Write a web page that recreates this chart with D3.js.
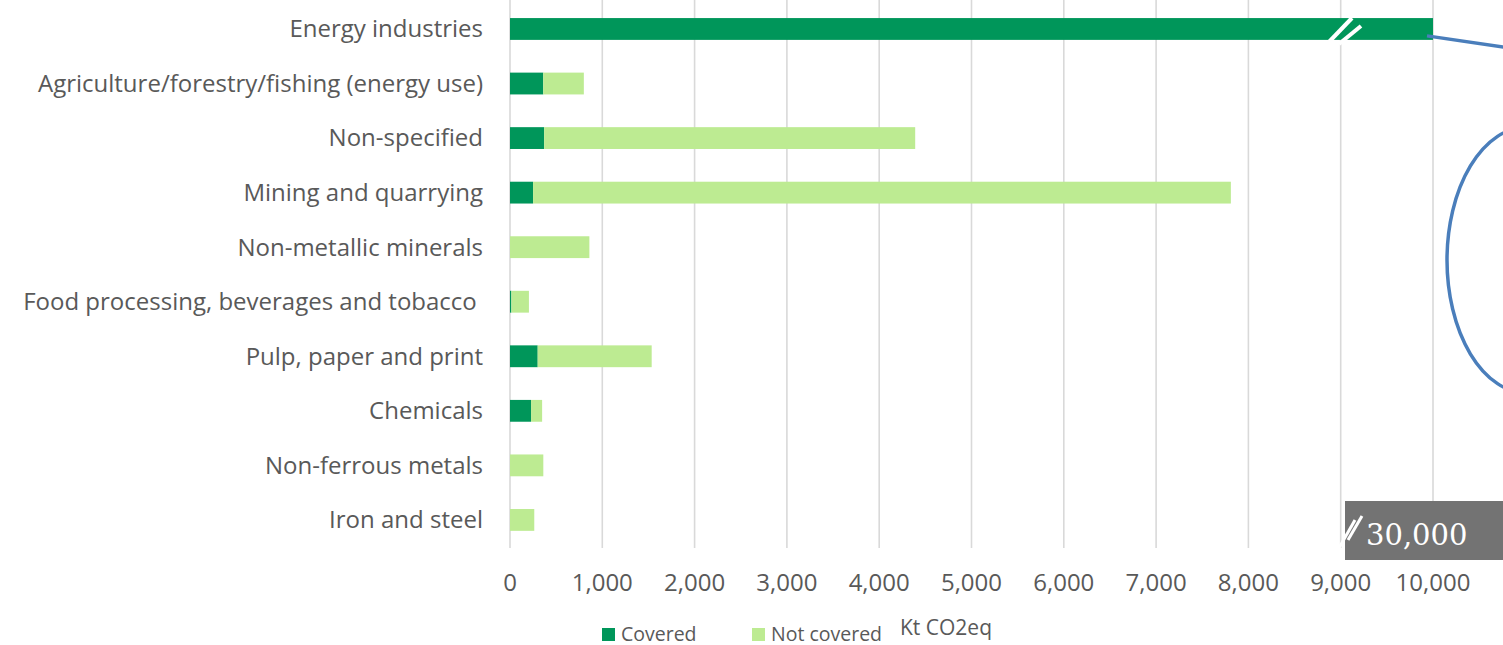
<!DOCTYPE html>
<html>
<head>
<meta charset="utf-8">
<script src="https://cdn.jsdelivr.net/npm/d3@7"></script>
<style>
  html, body { margin: 0; padding: 0; background: #fff; }
  svg { display: block; font-family: "Open Sans", sans-serif; }
  text { white-space: pre; }
</style>
</head>
<body>
<svg id="chart" width="1503" height="645"></svg>
<script>
// Emissions by sector, split into covered / not covered (kt CO2eq)
const categories = [
  "Energy industries",
  "Agriculture/forestry/fishing (energy use)",
  "Non-specified",
  "Mining and quarrying",
  "Non-metallic minerals",
  "Food processing, beverages and tobacco ",
  "Pulp, paper and print",
  "Chemicals",
  "Non-ferrous metals",
  "Iron and steel"
];
const covered    = [30000, 360, 370, 250,   0,  15,  300, 228,   0,   0];
const notCovered = [    0, 440, 4020, 7560, 860, 190, 1235, 120, 361, 263];
const seriesNames = ["Covered", "Not covered"];
const seriesColors = ["#00965a", "#bdeb92"];
const xTicks = [0, 1000, 2000, 3000, 4000, 5000, 6000, 7000, 8000, 9000, 10000];
const axisTitle = "Kt CO2eq";
const breakLabel = "30,000";

const svg = d3.select("#chart");
const W = 1503, H = 645;

// the axis is cut at 10,000; larger values run to the edge of the plot
const x = d3.scaleLinear().domain([0, 10000]).range([510, 1433]).clamp(true);
const y = d3.scaleBand().domain(categories).range([1.7, 547.2])
  .paddingInner(0.6).paddingOuter(0.3);

// gridlines
svg.append("g").selectAll("line").data(xTicks).join("line")
  .attr("x1", d => x(d)).attr("x2", d => x(d))
  .attr("y1", 0).attr("y2", 548)
  .attr("stroke", "#d9d9d9").attr("stroke-width", 1.6);

// stacked bars
const rows = categories.map((c, i) => ({ c, v: [covered[i], notCovered[i]] }));
const gBars = svg.append("g");
rows.forEach(r => {
  let acc = 0;
  r.v.forEach((v, s) => {
    const x0 = x(acc), x1 = x(acc + v);
    acc += v;
    if (x1 - x0 <= 0) return;
    gBars.append("rect")
      .attr("x", x0).attr("y", y(r.c))
      .attr("width", x1 - x0).attr("height", y.bandwidth())
      .attr("fill", seriesColors[s]);
  });
});

// category labels
svg.append("g").selectAll("text").data(categories).join("text")
  .attr("x", 483).attr("y", d => y(d) + y.bandwidth() / 2)
  .attr("dy", "0.35em").attr("text-anchor", "end")
  .attr("font-size", 24).attr("fill", "#595959")
  .text(d => d);

// x tick labels
svg.append("g").selectAll("text").data(xTicks).join("text")
  .attr("x", d => x(d)).attr("y", 591)
  .attr("text-anchor", "middle")
  .attr("font-size", 24).attr("fill", "#595959")
  .text(d => d3.format(",")(d));

// axis title
svg.append("text").attr("x", 900).attr("y", 635)
  .attr("font-size", 21).attr("fill", "#595959").text(axisTitle);

// legend
const legX = [602, 752];
seriesNames.forEach((n, i) => {
  svg.append("rect").attr("x", legX[i]).attr("y", 628)
    .attr("width", 13).attr("height", 13).attr("fill", seriesColors[i]);
  svg.append("text").attr("x", legX[i] + 19).attr("y", 640.5)
    .attr("font-size", 19.5).attr("fill", "#595959").text(n);
});

// axis-break marks on the long bar
const brk = svg.append("g").attr("stroke", "#fff").attr("stroke-width", 4);
brk.append("line").attr("x1", 1327).attr("y1", 44).attr("x2", 1352).attr("y2", 18);
brk.append("line").attr("x1", 1339).attr("y1", 44).attr("x2", 1361).attr("y2", 26);

// break label box at the end of the axis
svg.append("rect").attr("x", 1345).attr("y", 501)
  .attr("width", W - 1345).attr("height", 59).attr("fill", "#737373");
const brk2 = svg.append("g").attr("stroke", "#fff").attr("stroke-width", 3);
brk2.append("line").attr("x1", 1339).attr("y1", 548).attr("x2", 1355).attr("y2", 520);
brk2.append("line").attr("x1", 1348).attr("y1", 540).attr("x2", 1362).attr("y2", 516);
svg.append("text").attr("x", 1366).attr("y", 545)
  .attr("font-family", "'DejaVu Serif', serif")
  .attr("font-size", 29).attr("fill", "#fff").text(breakLabel);

// call-out connector and ellipse
const callout = svg.append("g").attr("fill", "none")
  .attr("stroke", "#4a7ebb").attr("stroke-width", 3.5);
callout.append("line")
  .attr("x1", x(10000) - 6).attr("y1", y(categories[0]) + y.bandwidth() - 4)
  .attr("x2", W + 40).attr("y2", 53);
callout.append("ellipse").attr("cx", 1527).attr("cy", 260)
  .attr("rx", 80).attr("ry", 133);
</script>
</body>
</html>
